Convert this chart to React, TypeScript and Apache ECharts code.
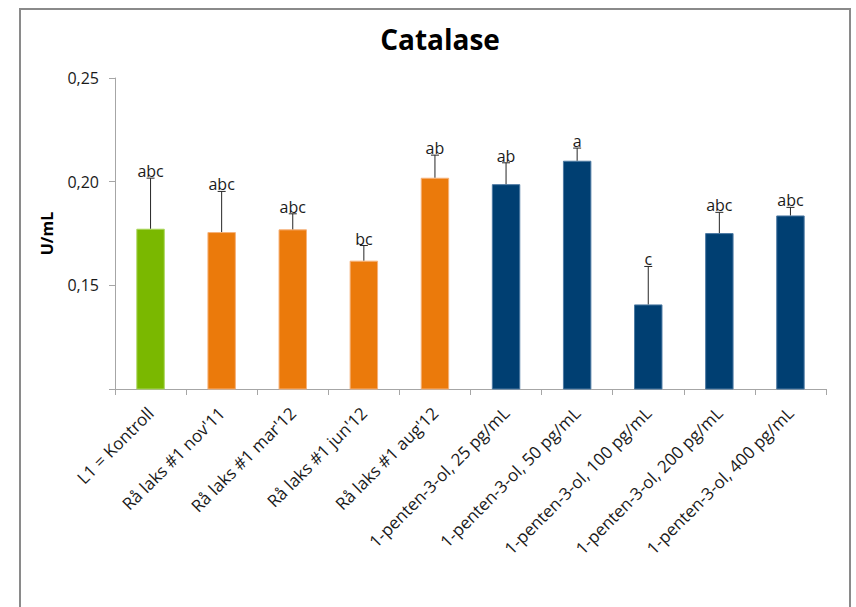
import React, { useEffect, useRef } from "react";
import * as echarts from "echarts";

// Catalase activity per treatment group (U/mL), mean and error
const categories = [
  "L1 = Kontroll",
  "Rå laks #1 nov'11",
  "Rå laks #1 mar'12",
  "Rå laks #1 jun'12",
  "Rå laks #1 aug'12",
  "1-penten-3-ol, 25 pg/mL",
  "1-penten-3-ol, 50 pg/mL",
  "1-penten-3-ol, 100 pg/mL",
  "1-penten-3-ol, 200 pg/mL",
  "1-penten-3-ol, 400 pg/mL",
];
const means = [0.1773, 0.1757, 0.177, 0.1619, 0.2019, 0.1988, 0.2101, 0.1408, 0.1752, 0.1837];
const errors = [0.0244, 0.0196, 0.0075, 0.0073, 0.0109, 0.0103, 0.0061, 0.0183, 0.01, 0.0039];
const letters = ["abc", "abc", "abc", "bc", "ab", "ab", "a", "c", "abc", "abc"];
const groups = ["control", "raw", "raw", "raw", "raw", "pentenol", "pentenol", "pentenol", "pentenol", "pentenol"];
const yTicks = [0.1, 0.15, 0.2, 0.25];

const groupColors: Record<string, { fill: string; edge: string }> = {
  control: { fill: "#7ab800", edge: "#a9d65a" },
  raw: { fill: "#eb7a0b", edge: "#f6b27a" },
  pentenol: { fill: "#003f72", edge: "#4d7aa3" },
};

const FONT = "'Open Sans', Lato, sans-serif";

export default function App() {
  const ref = useRef<HTMLDivElement>(null);

  useEffect(() => {
    if (!ref.current) return;
    const chart = echarts.init(ref.current, null, { renderer: "svg" });

    const option: echarts.EChartsOption = {
      animation: false,
      backgroundColor: "#ffffff",
      title: {
        text: "Catalase",
        left: 435,
        textAlign: "center",
        top: 20,
        textStyle: { fontFamily: FONT, fontSize: 28, fontWeight: "bold", color: "#000" },
      },
      graphic: [
        {
          type: "rect",
          shape: { x: 20, y: 9, width: 830, height: 640 },
          style: { fill: "none", stroke: "#8a8a8a", lineWidth: 2 },
          silent: true,
        },
      ],
      grid: { left: 115, top: 78, right: 30, bottom: 218, containLabel: false },
      xAxis: {
        type: "category",
        data: categories,
        axisLine: { lineStyle: { color: "#a6a6a6", width: 1 } },
        axisTick: { show: true, length: 6, alignWithLabel: false, lineStyle: { color: "#a6a6a6" } },
        axisLabel: {
          rotate: 45,
          interval: 0,
          margin: 21,
          fontFamily: FONT,
          fontSize: 17,
          color: "#1a1a1a",
        },
      },
      yAxis: {
        type: "value",
        min: 0.1,
        max: 0.25,
        interval: 0.05,
        name: "U/mL",
        nameLocation: "middle",
        nameGap: 60,
        nameRotate: 90,
        nameTextStyle: { fontFamily: FONT, fontSize: 16, fontWeight: "bold", color: "#000" },
        axisLine: { show: true, lineStyle: { color: "#a6a6a6", width: 1 } },
        axisTick: { show: true, length: 6, lineStyle: { color: "#a6a6a6" } },
        splitLine: { show: false },
        axisLabel: {
          fontFamily: FONT,
          fontSize: 16,
          color: "#1a1a1a",
          margin: 16,
          formatter: (v: number) =>
            Math.abs(v - yTicks[0]) < 1e-9 ? "" : v.toFixed(2).replace(".", ","),
        },
      },
      series: [
        {
          type: "bar",
          barWidth: "40%",
          data: means.map((m, i) => ({
            value: m,
            itemStyle: {
              color: groupColors[groups[i]].fill,
              borderColor: groupColors[groups[i]].edge,
              borderWidth: 1,
            },
          })),
        },
        {
          type: "custom",
          z: 10,
          data: means.map((m, i) => [i, m, m + errors[i]]),
          renderItem: (params: any, api: any) => {
            const idx = api.value(0);
            const base = api.coord([idx, api.value(1)]);
            const top = api.coord([idx, api.value(2)]);
            const x = base[0];
            const cap = 4;
            return {
              type: "group",
              children: [
                {
                  type: "line",
                  shape: { x1: x, y1: base[1], x2: x, y2: top[1] },
                  style: { stroke: "#262626", lineWidth: 1 },
                },
                {
                  type: "line",
                  shape: { x1: x - cap, y1: top[1], x2: x + cap, y2: top[1] },
                  style: { stroke: "#262626", lineWidth: 1 },
                },
                {
                  type: "text",
                  x: x,
                  y: top[1] + 1,
                  style: {
                    text: letters[params.dataIndex],
                    fontFamily: FONT,
                    fontSize: 16,
                    fill: "#1a1a1a",
                    align: "center",
                    verticalAlign: "bottom",
                  },
                },
              ],
            };
          },
        },
      ],
    };

    chart.setOption(option);
    return () => chart.dispose();
  }, []);

  return (
    <div
      ref={ref}
      style={{ position: "fixed", left: 0, top: 0, width: 856, height: 607 }}
    />
  );
}
